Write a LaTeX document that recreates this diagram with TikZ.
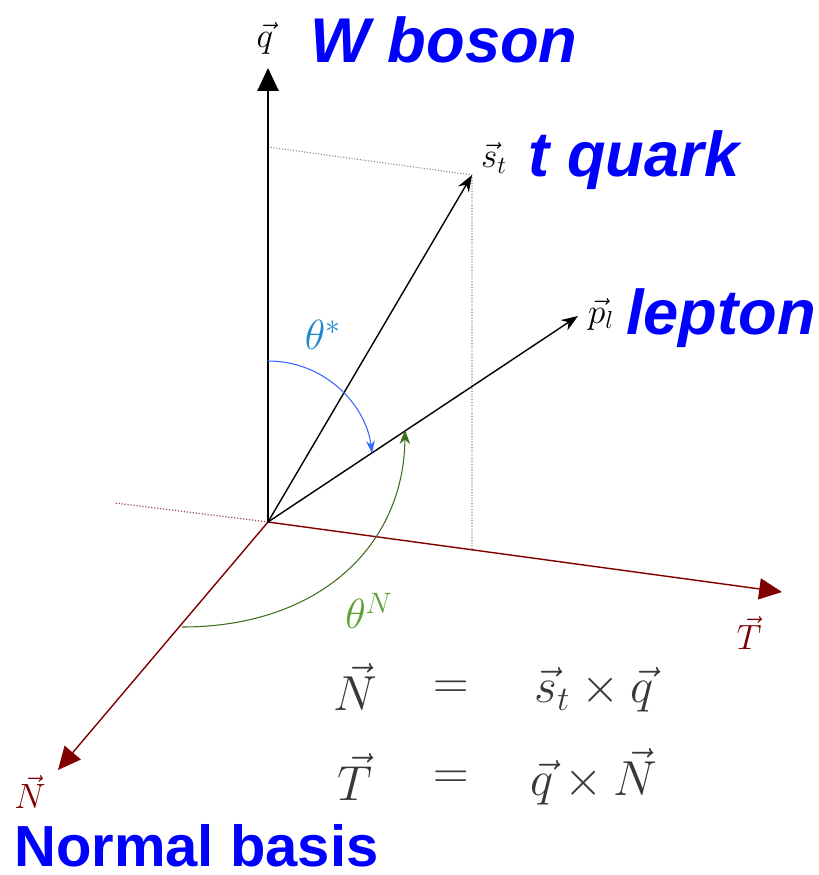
\RequirePackage{fix-cm}
\documentclass[tikz,border=0pt]{standalone}
\usepackage{fontspec}
\setsansfont{Liberation Sans}
\usepackage{amsmath}
\usetikzlibrary{arrows.meta, positioning}
\definecolor{axisred}{RGB}{128,0,0}
\definecolor{thetablue}{RGB}{30,136,208}
\definecolor{arcblue}{RGB}{51,102,255}
\definecolor{thetagreen}{RGB}{90,160,50}
\definecolor{arcgreen}{RGB}{60,110,30}

\begin{document}
\begin{tikzpicture}[x=0.02cm, y=-0.02cm,
  vec/.style={line width=0.8pt, -{Stealth[length=9.5pt, width=7pt]}},
  axis/.style={draw=axisred, line width=0.8pt,
               -{Triangle[length=13pt, width=12pt, fill=axisred]}},
  proj/.style={densely dotted, gray, line width=0.6pt},
  partname/.style={text=blue, font=\sffamily\bfseries\itshape\fontsize{36}{40}\selectfont},
  sym/.style={font=\fontsize{20}{24}\selectfont},
  eq/.style={text=black!78, inner sep=0pt, font=\fontsize{28}{32}\selectfont}]

  \useasboundingbox (0,0) rectangle (818,875);

  % frame
  \coordinate (O)     at (268,522);
  \coordinate (qtip)  at (268,68);
  \coordinate (sttip) at (472,175);
  \coordinate (pltip) at (578,316);
  \coordinate (Ttip)  at (782,592);
  \coordinate (Ntip)  at (58,770);
  \coordinate (Tback) at (115,503);
  \coordinate (qproj) at (268,147);
  \coordinate (Tproj) at (472,550);

  \draw[proj] (qproj) -- (sttip) -- (Tproj);
  \draw[densely dotted, axisred!70, line width=0.7pt] (O) -- (Tback);
  \draw[axis] (O) -- (Ttip);
  \draw[axis] (O) -- (Ntip);
  \draw[line width=1.1pt, -{Triangle[length=13pt, width=12pt]}] (O) -- (qtip);
  \draw[vec] (O) -- (sttip);
  \draw[vec] (O) -- (pltip);

  % angles
  \coordinate (thsA) at (268,361);
  \coordinate (thsB) at (372,453);
  \coordinate (thNA) at (182,627);
  \coordinate (thNB) at (405,430);
  \draw[arcblue, line width=0.6pt, -{Stealth[length=7pt, width=5pt]}]
    (thsA) .. controls (325,361) and (366,405) .. (thsB);
  \draw[arcgreen, line width=0.6pt, -{Stealth[length=8pt, width=6pt]}]
    (thNA) .. controls (320,627) and (404,545) .. (thNB);

  % labels
  \node[sym] (qlab)  at (265,38)  {$\vec{q}$};
  \node[sym] (stlab) at (494,158) {$\vec{s}_t$};
  \node[sym] (pllab) at (601,314) {$\vec{p}_l$};
  \node[sym, text=axisred] (Tlab) at (749,633) {$\vec{T}$};
  \node[sym, text=axisred, inner sep=1pt] (Nlab) at (30,792)  {$\vec{N}$};
  \node[sym, text=thetablue, font=\fontsize{24}{28}\selectfont] (thslab) at (323,335) {$\theta^{*}$};
  \node[sym, text=thetagreen, font=\fontsize{24}{28}\selectfont] (thNlab) at (369,611) {$\theta^{N}$};

  \node[partname] (wboson) at (444,40)  {W boson};
  \node[partname] (tquark) at (634,160) {t quark};
  \node[partname] (lepton) at (721,318) {lepton};
  \node[partname, font=\sffamily\bfseries\fontsize{33}{38}\selectfont,
        anchor=base west, inner sep=0pt] (basis) at (14,866) {Normal basis};

  % definitions
  \node[eq] (eqNl) at (355,687) {$\vec{N}$};
  \node[eq] (eqNm) at (451,690) {$=$};
  \node[eq] (eqNr) at (594,690) {$\vec{s}_t\times\vec{q}$};
  \node[eq] (eqTl) at (355,777) {$\vec{T}$};
  \node[eq] (eqTm) at (451,780) {$=$};
  \node[eq] (eqTr) at (594,777) {$\vec{q}\times\vec{N}$};
\end{tikzpicture}
\end{document}
